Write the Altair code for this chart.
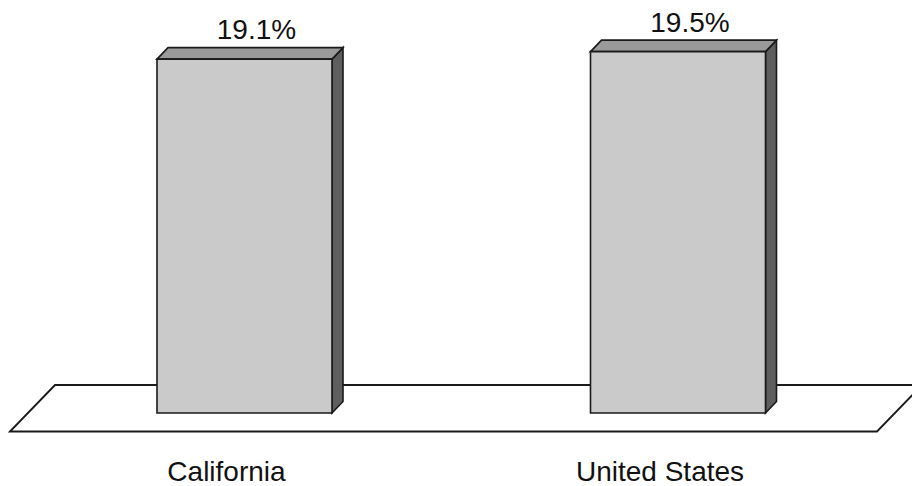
import altair as alt
import pandas as pd

# ---- data ----
categories = ["California", "United States"]
values = [19.1, 19.5]
value_labels = ["19.1%", "19.5%"]

# ---- layout (pixel calibration of the scales) ----
W, H = 912, 486
PX_PER_X = 433.5          # pixels per category step
PX_PER_Y = 18.53          # pixels per percentage point
X0_PX = 244.5             # pixel of first category centre
Y0_PX = 413.0             # pixel of the zero baseline

def lx(px):  # pixel length -> x units
    return px / PX_PER_X

def ly(px):  # pixel length -> y units
    return px / PX_PER_Y

HALF_W = lx(87.5)
DX, DY = lx(11), ly(11.5)

x_scale = alt.Scale(domain=[-X0_PX / PX_PER_X, (W - X0_PX) / PX_PER_X], nice=False, zero=False)
y_scale = alt.Scale(domain=[-(H - Y0_PX) / PX_PER_Y, Y0_PX / PX_PER_Y], nice=False, zero=False)

# ---- tables built from the arrays ----
front_rows, top_rows, side_rows = [], [], []
for i, (c, v) in enumerate(zip(categories, values)):
    xl, xr = i - HALF_W, i + HALF_W
    front_rows.append(dict(cat=c, xl=xl, xr=xr, v=v, xc=i, lab=value_labels[i]))
    top_rows += [
        dict(cat=c, x=xl, lo=v, hi=v),
        dict(cat=c, x=xl + DX, lo=v, hi=v + DY),
        dict(cat=c, x=xr, lo=v, hi=v + DY),
        dict(cat=c, x=xr + DX, lo=v + DY, hi=v + DY),
    ]
    side_rows += [
        dict(cat=c, x=xr, lo=0, hi=v),
        dict(cat=c, x=xr + DX, lo=DY, hi=v + DY),
    ]
front = pd.DataFrame(front_rows)
top = pd.DataFrame(top_rows)
side = pd.DataFrame(side_rows)

# floor plane (decoration)
f_front_y, f_back_y = -ly(18.5), ly(28)
fl, fr = -lx(234.5), lx(632.5)
bl, br = -lx(189.5), lx(677.5)
floor = pd.DataFrame([
    dict(cat="floor", x=fl, lo=f_front_y, hi=f_front_y),
    dict(cat="floor", x=bl, lo=f_front_y, hi=f_back_y),
    dict(cat="floor", x=fr, lo=f_front_y, hi=f_back_y),
    dict(cat="floor", x=br, lo=f_back_y, hi=f_back_y),
])

STROKE = "#1a1a1a"
SW = 1.6

def area_layer(df, fill, sw=SW):
    return alt.Chart(df).mark_area(
        fill=fill, stroke=STROKE, strokeWidth=sw, interpolate="linear", orient="vertical"
    ).encode(
        x=alt.X("x:Q", scale=x_scale, axis=None),
        y=alt.Y("hi:Q", scale=y_scale, axis=None, stack=None),
        y2=alt.Y2("lo:Q"),
        detail=alt.Detail("cat:N"),
    )

floor_layer = area_layer(floor, "white", 1.8)
side_layer = area_layer(side, "#5e5e5e")
top_layer = area_layer(top, "#9a9a9a")

front_layer = alt.Chart(front).mark_rect(fill="#cacaca", stroke=STROKE, strokeWidth=SW).encode(
    x=alt.X("xl:Q", scale=x_scale, axis=None),
    x2="xr:Q",
    y=alt.Y("v:Q", scale=y_scale, axis=None),
    y2=alt.datum(0),
)

value_text = alt.Chart(front).mark_text(
    font="Liberation Sans", fontSize=28, baseline="alphabetic", align="center", dx=12, dy=-20, color="#111"
).encode(
    x=alt.X("xc:Q", scale=x_scale, axis=None),
    y=alt.Y("v:Q", scale=y_scale, axis=None),
    text="lab:N",
)

cat_text = alt.Chart(front).mark_text(
    font="Liberation Sans", fontSize=28, baseline="alphabetic", align="center", dx=-18, color="#111"
).encode(
    x=alt.X("xc:Q", scale=x_scale, axis=None),
    y=alt.value(481),
    text="cat:N",
)

chart = alt.layer(floor_layer, side_layer, top_layer, front_layer, value_text, cat_text).properties(
    width=W, height=H, autosize=alt.AutoSizeParams(type="none"), padding=0, background="white"
).configure_view(stroke=None)

chart.save("out.html", embed_options={"renderer": "svg", "actions": False})
